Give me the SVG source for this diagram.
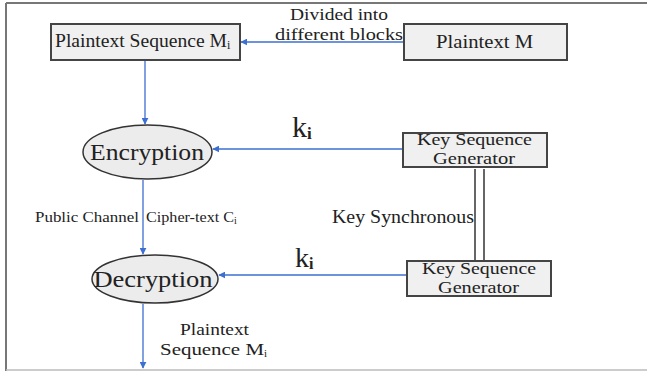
<svg xmlns="http://www.w3.org/2000/svg" width="647" height="372" viewBox="0 0 647 372">
<defs>
<marker id="ah" viewBox="0 0 10 10" refX="9" refY="5" markerWidth="7" markerHeight="7" markerUnits="userSpaceOnUse" orient="auto">
<path d="M0,0 L10,5 L0,10 z" fill="#3d6fd0"/>
</marker>
<style>
text{font-family:"Liberation Serif","Times New Roman",serif;fill:#222}
.box{fill:#f0f0f0;stroke:#444;stroke-width:2}
.ell{fill:#ececec;stroke:#333;stroke-width:1.5}
.edge{stroke:#3d6fd0;stroke-width:1.3;fill:none;marker-end:url(#ah)}
.sync{stroke:#333;stroke-width:1.5;fill:none}
.frame{stroke:#777;stroke-width:2;fill:none}
</style>
</defs>
<rect width="647" height="372" fill="#fff"/>
<g id="frame">
<line class="frame" x1="6" y1="3" x2="647" y2="3"/>
<line class="frame" x1="6" y1="3" x2="6" y2="371"/>
<line x1="6" y1="370" x2="647" y2="370" stroke="#bbb" stroke-width="1.5"/>
</g>
<g id="connectors">
<line class="edge" x1="404" y1="42" x2="241" y2="42"/>
<line class="edge" x1="145" y1="61" x2="145" y2="124"/>
<line class="edge" x1="403" y1="149" x2="213" y2="149"/>
<line class="edge" x1="143" y1="180" x2="143" y2="254"/>
<line class="edge" x1="407" y1="275" x2="219" y2="275"/>
<line class="edge" x1="143" y1="304" x2="143" y2="368"/>
<line class="sync" x1="475" y1="169" x2="475" y2="261"/>
<line class="sync" x1="484" y1="169" x2="484" y2="261"/>
</g>
<g id="labels">
<text x="339" y="20" font-size="16" text-anchor="middle" textLength="98" lengthAdjust="spacingAndGlyphs">Divided into</text>
<text x="339" y="40" font-size="16" text-anchor="middle" textLength="128" lengthAdjust="spacingAndGlyphs">different blocks</text>
<text x="292" y="137" font-size="30">k<tspan font-size="17" font-weight="bold" dy="2">i</tspan></text>
<text x="295" y="267" font-size="28">k<tspan font-size="16" font-weight="bold" dy="2">i</tspan></text>
<text x="35" y="222" font-size="14" textLength="104" lengthAdjust="spacingAndGlyphs">Public Channel</text>
<text x="146" y="222" font-size="14"><tspan textLength="88" lengthAdjust="spacingAndGlyphs">Cipher-text C</tspan><tspan font-size="10" dy="2">i</tspan></text>
<text x="332" y="223" font-size="18" textLength="142" lengthAdjust="spacingAndGlyphs">Key Synchronous</text>
<text x="180" y="335" font-size="17" textLength="69" lengthAdjust="spacingAndGlyphs">Plaintext</text>
<text x="160" y="355" font-size="17"><tspan textLength="104" lengthAdjust="spacingAndGlyphs">Sequence  M</tspan><tspan font-size="11" dy="2">i</tspan></text>
</g>
<g id="plaintext-seq">
<rect class="box" x="51" y="24" width="189" height="36"/>
<text x="55" y="47" font-size="18"><tspan textLength="172" lengthAdjust="spacingAndGlyphs">Plaintext Sequence M</tspan><tspan font-size="12" dy="2">i</tspan></text>
</g>
<g id="plaintext-m">
<rect class="box" x="404" y="24" width="163" height="36"/>
<text x="436" y="48" font-size="18" textLength="97" lengthAdjust="spacingAndGlyphs">Plaintext  M</text>
</g>
<g id="encryption">
<ellipse class="ell" cx="147.5" cy="152" rx="64.5" ry="27"/>
<text x="147" y="160" font-size="24" text-anchor="middle" textLength="114" lengthAdjust="spacingAndGlyphs">Encryption</text>
</g>
<g id="keygen1">
<rect class="box" x="403" y="133" width="144" height="34"/>
<text x="417" y="145" font-size="17" textLength="115" lengthAdjust="spacingAndGlyphs">Key Sequence</text>
<text x="433" y="164" font-size="17" textLength="82" lengthAdjust="spacingAndGlyphs">Generator</text>
</g>
<g id="decryption">
<ellipse class="ell" cx="155" cy="279" rx="63" ry="24"/>
<text x="153" y="287" font-size="24" text-anchor="middle" textLength="119" lengthAdjust="spacingAndGlyphs">Decryption</text>
</g>
<g id="keygen2">
<rect class="box" x="407" y="261" width="144" height="35"/>
<text x="422" y="274" font-size="17" textLength="114" lengthAdjust="spacingAndGlyphs">Key Sequence</text>
<text x="438" y="293" font-size="17" textLength="81" lengthAdjust="spacingAndGlyphs">Generator</text>
</g>
</svg>
